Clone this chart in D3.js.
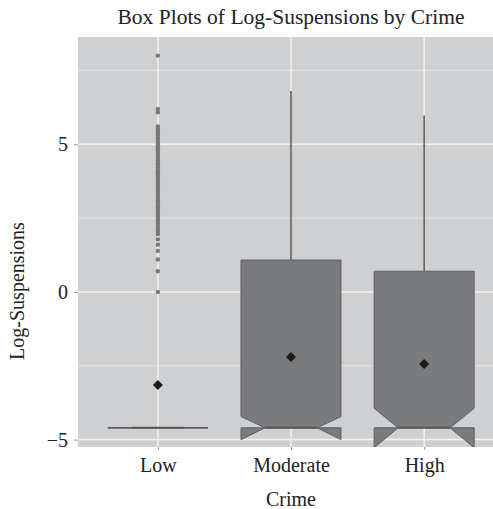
<!DOCTYPE html>
<html>
<head>
<meta charset="utf-8">
<script src="https://cdn.jsdelivr.net/npm/d3@7"></script>
<style>
  body { margin: 0; background: #fff; }
  text { font-family: "Liberation Serif", "DejaVu Serif", serif; fill: #222; }
</style>
</head>
<body>
<script>
// box plot summary values
const categories = ["Low", "Moderate", "High"];
const q1 = [-4.6, -4.6, -4.6];
const medians = [-4.6, -4.6, -4.6];
const q3 = [-4.6, 1.08, 0.7];
const whiskerHi = [-4.6, 6.8, 5.97];
const notchLo = [-4.6, -5.0, -5.28];
const notchHi = [-4.6, -4.22, -3.94];
const means = [-3.15, -2.2, -2.44];

// outliers only for "Low"
const lowOutliers = [8.0, 6.19, 6.08, 5.6, 5.52, 5.45, 5.38, 5.3, 5.22, 5.15, 5.05,
  4.98, 4.9, 4.82, 4.75, 4.68, 4.6, 4.52, 4.44, 4.36, 4.3, 4.22, 4.12, 4.05, 3.98,
  3.9, 3.82, 3.75, 3.66, 3.58, 3.5, 3.42, 3.35, 3.26, 3.18, 3.1, 3.02, 2.94, 2.86,
  2.78, 2.7, 2.62, 2.54, 2.46, 2.38, 2.3, 2.2, 2.1, 2.04, 1.96, 1.78, 1.6, 1.39,
  1.1, 0.7, 0.0];

const majorTicks = [-5, 0, 5];
const minorTicks = [-2.5, 2.5, 7.5];

var margin = {top: 37, left: 78},
    width = 493, height = 509;

const svg = d3.select("body").append("svg")
    .attr("width", width)
    .attr("height", height);

const x = d3.scalePoint()
    .domain(categories)
    .range([margin.left, 504])
    .padding(0.6);

const y = d3.scaleLinear()
    .domain([-5.25, 8.63])
    .range([447, margin.top]);

const boxW = 100, notchW = 52;

svg.append("clipPath").attr("id", "panel")
  .append("rect")
    .attr("x", margin.left).attr("y", margin.top)
    .attr("width", 504 - margin.left).attr("height", 447 - margin.top);

// panel background
svg.append("rect")
    .attr("x", margin.left).attr("y", margin.top)
    .attr("width", 504 - margin.left).attr("height", 447 - margin.top)
    .attr("fill", "#cfd0d2");

const plot = svg.append("g").attr("clip-path", "url(#panel)");

// grid
plot.selectAll(".minor").data(minorTicks).enter().append("line")
    .attr("x1", margin.left).attr("x2", 504)
    .attr("y1", d => y(d)).attr("y2", d => y(d))
    .attr("stroke", "#e4e5e6").attr("stroke-width", 1);
plot.selectAll(".major").data(majorTicks).enter().append("line")
    .attr("x1", margin.left).attr("x2", 504)
    .attr("y1", d => y(d)).attr("y2", d => y(d))
    .attr("stroke", "#f2f2f2").attr("stroke-width", 1.5);
plot.selectAll(".vgrid").data(categories).enter().append("line")
    .attr("x1", d => x(d)).attr("x2", d => x(d))
    .attr("y1", margin.top).attr("y2", 447)
    .attr("stroke", "#f2f2f2").attr("stroke-width", 1.5);

const idx = d3.range(categories.length);

// whiskers
plot.selectAll(".whisker").data(idx).enter().append("line")
    .attr("x1", i => x(categories[i])).attr("x2", i => x(categories[i]))
    .attr("y1", i => y(q3[i])).attr("y2", i => y(whiskerHi[i]))
    .attr("stroke", "#555").attr("stroke-width", 1.5);

// notched boxes
function boxPath(i) {
  const cx = x(categories[i]);
  const L = cx - boxW / 2, R = cx + boxW / 2;
  const nL = cx - notchW / 2, nR = cx + notchW / 2;
  const p = d3.path();
  p.moveTo(L, y(q3[i]));
  p.lineTo(R, y(q3[i]));
  p.lineTo(R, y(notchHi[i]));
  p.lineTo(nR, y(medians[i]));
  p.lineTo(R, y(notchLo[i]));
  p.lineTo(R, y(q1[i]));
  p.lineTo(L, y(q1[i]));
  p.lineTo(L, y(notchLo[i]));
  p.lineTo(nL, y(medians[i]));
  p.lineTo(L, y(notchHi[i]));
  p.closePath();
  return p.toString();
}
plot.selectAll(".box").data(idx).enter().append("path")
    .attr("d", boxPath)
    .attr("fill", "#7a7b7d")
    .attr("stroke", "#5e5f61").attr("stroke-width", 1)
    .attr("stroke-linejoin", "miter");

// medians
plot.selectAll(".median").data(idx).enter().append("line")
    .attr("x1", i => x(categories[i]) - notchW / 2)
    .attr("x2", i => x(categories[i]) + notchW / 2)
    .attr("y1", i => y(medians[i])).attr("y2", i => y(medians[i]))
    .attr("stroke", "#555").attr("stroke-width", 2);

// outliers
plot.selectAll(".out").data(lowOutliers).enter().append("circle")
    .attr("cx", x("Low")).attr("cy", d => y(d)).attr("r", 2.2)
    .attr("fill", "#777879");

// means
plot.selectAll(".mean").data(idx).enter().append("path")
    .attr("d", d3.symbol().type(d3.symbolDiamond2).size(64))
    .attr("transform", i => `translate(${x(categories[i])},${y(means[i])})`)
    .attr("fill", "#1a1a1a");

// y axis
const yAxis = svg.append("g")
    .attr("transform", `translate(${margin.left},0)`)
    .call(d3.axisLeft(y).tickValues(majorTicks).tickSize(4).tickPadding(6)
      .tickFormat(d => d < 0 ? "\u2212" + Math.abs(d) : d));
yAxis.select(".domain").remove();
yAxis.selectAll("line").attr("stroke", "#999");
yAxis.selectAll("text").attr("font-size", 20).attr("fill", "#222").attr("font-family", null);

// x axis
const xAxis = svg.append("g")
    .attr("transform", `translate(0,447)`)
    .call(d3.axisBottom(x).tickSize(3).tickPadding(8));
xAxis.select(".domain").remove();
xAxis.selectAll("line").attr("stroke", "#999");
xAxis.selectAll("text").attr("font-size", 20).attr("fill", "#222").attr("font-family", null);

// titles
svg.append("text")
    .attr("x", 291).attr("y", 24)
    .attr("text-anchor", "middle").attr("font-size", 21.5)
    .text("Box Plots of Log-Suspensions by Crime");

svg.append("text")
    .attr("x", 291).attr("y", 506)
    .attr("text-anchor", "middle").attr("font-size", 20)
    .text("Crime");

svg.append("text")
    .attr("transform", "translate(24,291) rotate(-90)")
    .attr("text-anchor", "middle").attr("font-size", 20)
    .text("Log-Suspensions");
</script>
</body>
</html>
